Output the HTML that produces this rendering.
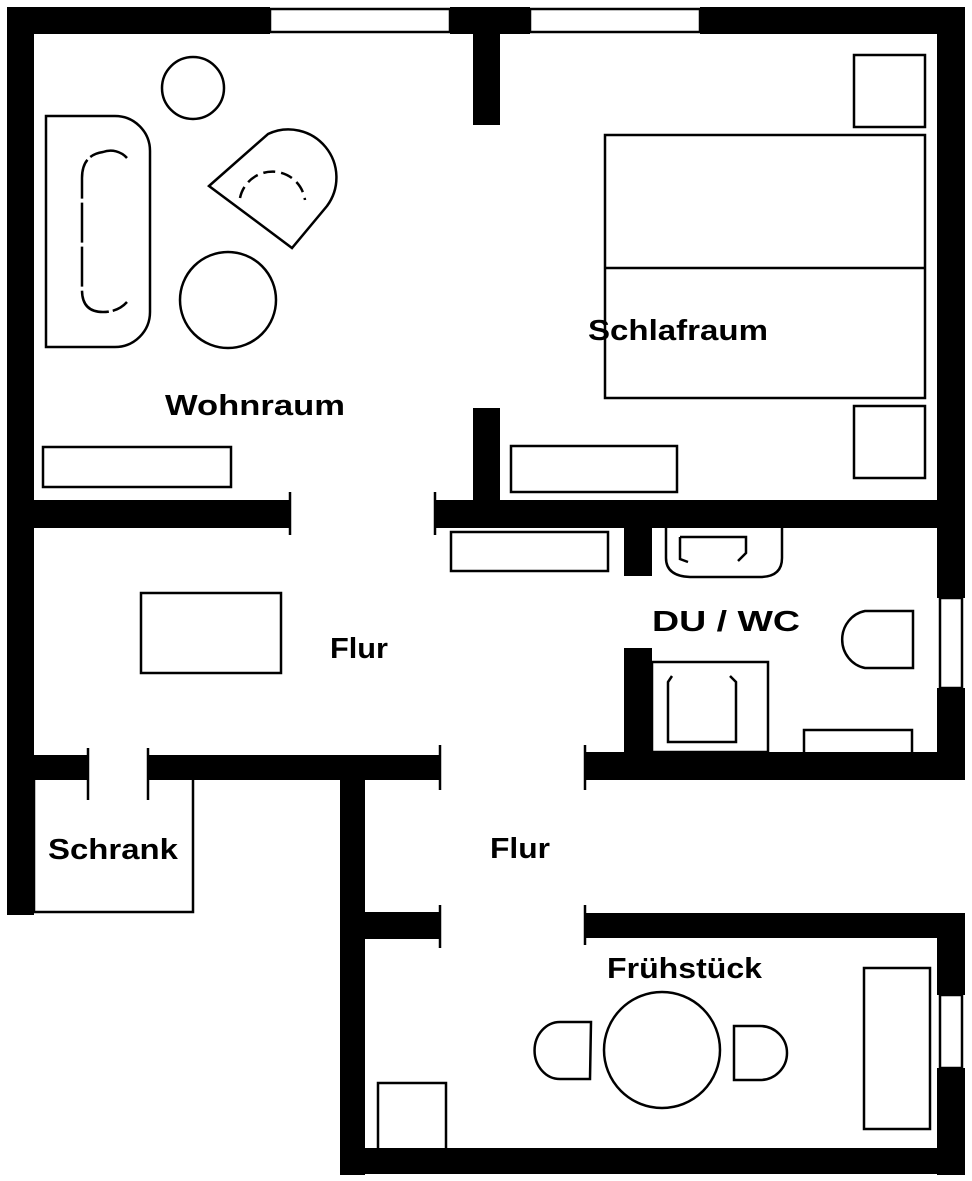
<!DOCTYPE html>
<html><head><meta charset="utf-8"><style>
html,body{margin:0;padding:0;background:#fff;}
svg{display:block;}
text{font-family:"Liberation Sans",sans-serif;font-weight:bold;fill:#000;}
</style></head><body>
<svg width="972" height="1181" viewBox="0 0 972 1181" xmlns="http://www.w3.org/2000/svg">
<g fill="#000">
<rect x="7" y="7" width="263" height="27"/>
<rect x="450" y="7" width="80" height="27"/>
<rect x="700" y="7" width="265" height="27"/>
<rect x="7" y="7" width="27" height="908"/>
<rect x="473" y="34" width="27" height="91"/>
<rect x="937" y="7" width="28" height="591"/>
<rect x="937" y="688" width="28" height="92"/>
<rect x="7" y="500" width="283" height="28"/>
<rect x="435" y="500" width="530" height="28"/>
<rect x="473" y="408" width="27" height="92"/>
<rect x="624" y="528" width="28" height="48"/>
<rect x="624" y="648" width="28" height="132"/>
<rect x="585" y="752" width="380" height="28"/>
<rect x="34" y="755" width="54" height="25"/>
<rect x="148" y="755" width="292" height="25"/>
<rect x="340" y="780" width="25" height="395"/>
<rect x="365" y="912" width="75" height="27"/>
<rect x="585" y="913" width="380" height="25"/>
<rect x="937" y="913" width="28" height="82"/>
<rect x="937" y="1068" width="28" height="107"/>
<rect x="340" y="1148" width="625" height="26"/>
</g>
<g fill="none" stroke="#000" stroke-width="2.5">
<rect x="270" y="9" width="180" height="23"/>
<rect x="530" y="9" width="170" height="23"/>
<rect x="940" y="598" width="22" height="90"/>
<rect x="940" y="995" width="22" height="73"/>
<line x1="290" y1="492" x2="290" y2="535"/>
<line x1="435" y1="492" x2="435" y2="535"/>
<line x1="88" y1="748" x2="88" y2="800"/>
<line x1="148" y1="748" x2="148" y2="800"/>
<line x1="440" y1="745" x2="440" y2="790"/>
<line x1="585" y1="745" x2="585" y2="790"/>
<line x1="440" y1="905" x2="440" y2="948"/>
<line x1="585" y1="905" x2="585" y2="945"/>
<polyline points="34,780 34,912 193,912 193,780"/>
<circle cx="193" cy="88" r="31"/>
<path d="M46,116 H115 A35,35 0 0 1 150,151 V312 A35,35 0 0 1 115,347 H46 Z"/>
<path d="M127,158 A22,22 0 0 0 103,152 Q82,155 82,178 V290 Q82,312 103,312 Q118,312 127,302" stroke-dasharray="40 4"/>
<path d="M209,186 L268,134 A48,48 0 0 1 327,206 L292,248 Z"/>
<path d="M240,198 A33,33 0 0 1 305,200" stroke-dasharray="12 6"/>
<circle cx="228" cy="300" r="48"/>
<rect x="43" y="447" width="188" height="40"/>
<rect x="854" y="55" width="71" height="72"/>
<rect x="854" y="406" width="71" height="72"/>
<rect x="605" y="135" width="320" height="263"/>
<line x1="605" y1="268" x2="925" y2="268"/>
<rect x="511" y="446" width="166" height="46"/>
<rect x="451" y="532" width="157" height="39"/>
<path d="M666,528 V558 Q666,576 690,577 H762 Q782,576 782,558 V528"/>
<path d="M680,537 H746 V553 L738,561 M680,537 V559 L688,562"/>
<path d="M913,611 H865 A28,29 0 0 0 865,668 H913 Z"/>
<rect x="652" y="662" width="116" height="90"/>
<path d="M672,676 L668,682 V742 H736 V682 L730,676"/>
<rect x="804" y="730" width="108" height="24"/>
<rect x="141" y="593" width="140" height="80"/>
<circle cx="662" cy="1050" r="58"/>
<path d="M591,1022 H560 A25,28 0 0 0 560,1079 H590 Z"/>
<path d="M734,1026 H760 A27,27 0 0 1 760,1080 H734 Z"/>
<rect x="864" y="968" width="66" height="161"/>
<rect x="378" y="1083" width="68" height="67"/>
</g>
<text x="165" y="415" font-size="29" textLength="180" lengthAdjust="spacingAndGlyphs">Wohnraum</text>
<text x="588" y="340" font-size="29" textLength="180" lengthAdjust="spacingAndGlyphs">Schlafraum</text>
<text x="652" y="631" font-size="29" textLength="148" lengthAdjust="spacingAndGlyphs">DU / WC</text>
<text x="330" y="658" font-size="29" textLength="58" lengthAdjust="spacingAndGlyphs">Flur</text>
<text x="490" y="858" font-size="29" textLength="60" lengthAdjust="spacingAndGlyphs">Flur</text>
<text x="48" y="859" font-size="29" textLength="130" lengthAdjust="spacingAndGlyphs">Schrank</text>
<text x="607" y="978" font-size="29" textLength="155" lengthAdjust="spacingAndGlyphs">Frühstück</text>
</svg>
</body></html>
